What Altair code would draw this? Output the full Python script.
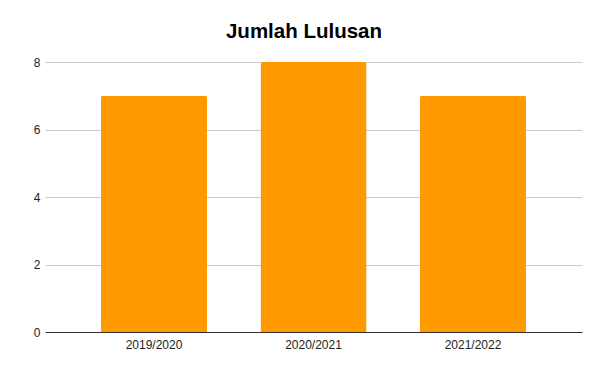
import altair as alt
import pandas as pd

years = ["2019/2020", "2020/2021", "2021/2022"]
lulusan = [7, 8, 7]

df = pd.DataFrame({"Tahun": years, "Jumlah": lulusan})

chart = alt.Chart(df).mark_bar(
    color="#FF9900", cornerRadiusTopLeft=2, cornerRadiusTopRight=2
).encode(
    x=alt.X("Tahun:N", sort=years, title=None,
            scale=alt.Scale(paddingInner=0.335, paddingOuter=0.351),
            axis=alt.Axis(labelAngle=0, ticks=False, domainColor="#333333",
                          labelColor="#222222", labelFont="Liberation Sans",
                          labelFontSize=12, labelPadding=7, grid=False)),
    y=alt.Y("Jumlah:Q", title=None,
            scale=alt.Scale(domain=[0, 8]),
            axis=alt.Axis(values=[0, 2, 4, 6, 8], domain=False, ticks=False,
                          gridColor="#cccccc", labelColor="#222222",
                          labelFont="Liberation Sans", labelFontSize=12,
                          labelPadding=5)),
).properties(
    width=537,
    height=270,
    title=alt.TitleParams("Jumlah Lulusan", font="Liberation Sans",
                          fontSize=20.5, fontWeight="bold", color="#000000",
                          anchor="middle", baseline="alphabetic",
                          offset=23.5, dx=-9.5, dy=26),
    autosize=alt.AutoSizeParams(type="none"),
    padding={"left": 45, "top": 62, "right": 18, "bottom": 39},
).configure_view(stroke=None)

chart.save("out.html", embed_options={"renderer": "svg", "actions": False})
